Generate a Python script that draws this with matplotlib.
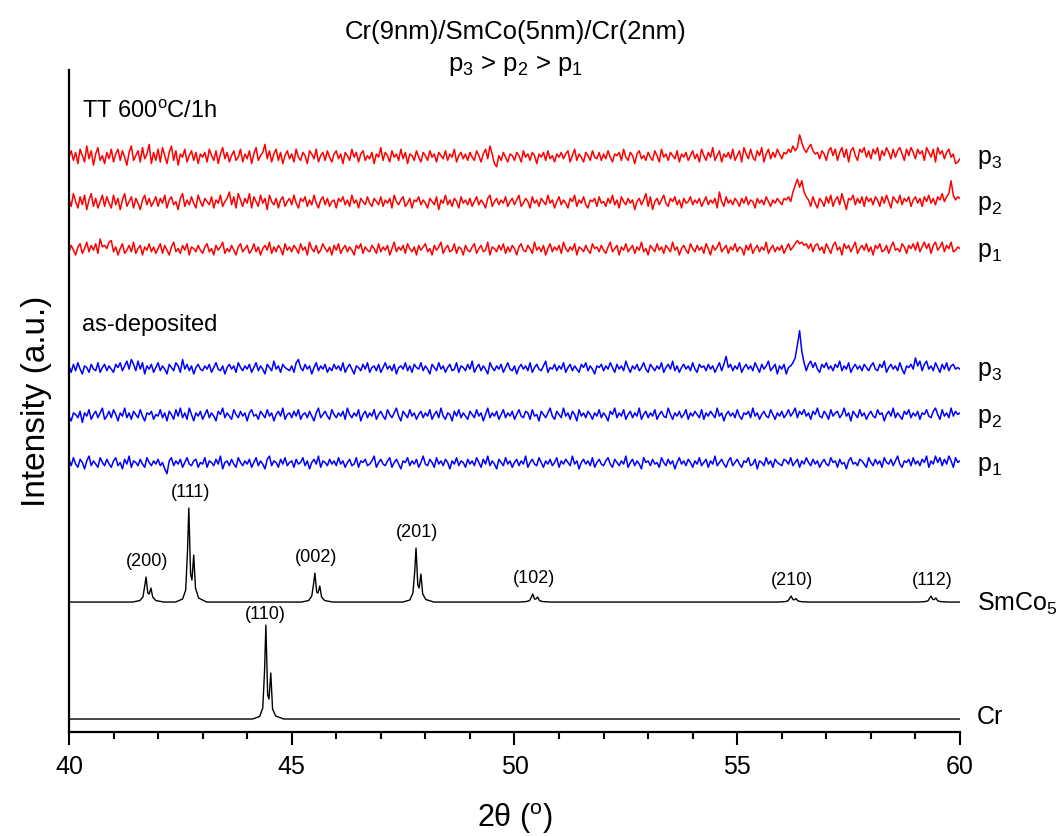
import numpy as np
import matplotlib
matplotlib.use("Agg")
import matplotlib.pyplot as plt
from matplotlib.ticker import MultipleLocator

plt.rcParams['font.family'] = ['Liberation Sans', 'DejaVu Sans']
plt.rcParams['mathtext.fontset'] = 'custom'
plt.rcParams['mathtext.rm'] = 'Liberation Sans'
plt.rcParams['mathtext.it'] = 'Liberation Sans'

# ---- film scans: intensity above background, 2theta from 40 to 60 in 0.05 deg steps ----
tt_p3 = [0, 4, -2, 3, -4, 5, 1, -3, 7, -1, 4, -5, 2, 6, -2, 1, -4, 3, -1, 5,
         -3, 2, 5, -2, 4, 0, -5, 3, 7, -2, 1, 4, -3, 6, -1, 2, 8, -4, 3, -2,
         5, -3, 6, 1, -4, 3, 7, -2, 4, -5, 2, 0, 5, -3, 1, 4, -2, 3, -4, 2,
         0, 3, -3, 5, 1, -2, 4, -4, 2, 6, -1, 3, -3, 1, 4, -2, 0, 5, -3, 2,
         -1, 4, -4, 2, 6, -2, 1, 3, 8, -1, 4, -3, 2, 5, -2, 3, -4, 1, 4, -1,
         2, -3, 5, 0, -2, 3, 1, -4, 4, 2, -1, 5, -3, 1, 3, -2, 4, 0, -3, 2,
         4, -1, 2, -4, 3, 1, -2, 5, 0, 3, -3, 2, 4, -2, 1, -1, 3, -4, 2, 0,
         6, -2, 3, 1, -3, 4, 0, 2, -2, 5, -1, 3, -4, 2, 1, -2, 4, 0, -3, 3,
         1, -2, 4, 0, 2, -3, 3, 1, -1, 4, -2, 2, 0, 5, -3, 1, 3, -1, 2, -2,
         3, 0, -2, 4, 1, -3, 2, 5, -1, 7, 2, -4, -6, 1, -2, 3, 0, -3, 2, 1,
         -2, 3, 1, -3, 4, 0, 2, -2, 3, 1, -4, 2, 0, 3, -2, 4, -1, 1, -3, 2,
         0, 3, -1, 2, 4, -3, 1, 5, -2, 2, 0, -3, 3, 1, -2, 4, 0, -1, 3, -2,
         2, -1, 4, 0, -3, 2, 1, 3, -2, 5, 0, -2, 3, 1, -4, 2, 4, -1, 1, -2,
         3, 0, -2, 4, 1, -3, 5, 0, 2, -2, 3, 1, -1, 4, -3, 2, 0, 3, -2, 1,
         4, -1, 2, -3, 5, 1, -2, 3, 0, 6, -2, 1, 4, -3, 2, 0, 3, -1, 5, -2,
         1, 4, -3, 6, 2, -1, 5, 0, -2, 4, 1, 6, -3, 2, 5, -1, 3, 0, 5, 2,
         -1, 3, 2, 5, 3, 7, 4, 6, 14, 9, 5, 3, 6, 8, 4, 2, 3, -1, 4, 2,
         -2, 4, 6, 1, 5, -2, 3, 6, 0, 5, -3, 4, 6, 1, -2, 5, 3, 6, 0, 4,
         -1, 5, 2, 6, -2, 4, 1, 6, 3, -1, 5, 0, 4, 6, 2, -2, 5, 1, 6, 3,
         -1, 5, 2, 4, -2, 6, 3, 0, 5, -3, 6, 2, 4, -1, 3, 5, 0, 2, -4, -3,
         -1]

tt_p2 = [3, -2, 6, 1, -3, 4, -1, 5, -4, 2, 6, -2, 3, -3, 1, 5, -2, 4, 0, -3,
         5, -1, 3, -4, 2, 6, -2, 1, 4, -3, 3, 0, -4, 2, 5, -1, 3, -2, 1, 4,
         -2, 3, 0, 5, -3, 2, 4, -1, 1, -4, 3, 6, -2, 2, -1, 4, 0, -3, 5, 1,
         -2, 3, 1, -1, 4, -3, 2, 0, 5, -2, 1, 3, 7, -1, 4, -3, 6, 2, -2, 3,
         0, 6, -3, 4, 1, -2, 5, 0, 3, -4, 5, 1, -1, 3, -3, 2, 4, -2, 1, 3,
         -1, 5, 0, -3, 3, 1, 4, -2, 2, -1, 5, 0, -3, 2, 4, -1, 3, -2, 1, 2,
         -3, 3, 1, 4, -1, 2, -2, 5, 0, 2, -3, 3, 1, -1, 4, 0, -2, 3, 1, -1,
         4, -2, 2, 0, 3, -3, 5, 1, -1, 2, 4, -2, 0, 3, -3, 2, 1, 4, -1, 2,
         0, -3, 3, 1, -1, 4, -4, 2, 0, 5, -1, 2, -2, 3, 1, -3, 4, 0, 2, -1,
         3, -2, 1, 4, -1, 2, 0, -3, 3, 5, -2, 1, 3, -1, 2, 0, 4, -2, 1, 3,
         -1, 2, 5, -2, 0, 3, 1, -3, 4, 0, 2, -2, 3, 1, -1, 5, 0, 2, -3, 1,
         4, -1, 2, 0, -3, 3, 1, 5, -2, 2, 0, 4, -1, -3, 2, 1, 3, -2, 4, 0,
         1, -2, 3, 0, 5, -1, 2, -3, 4, 1, -1, 3, 0, 2, -4, 1, 3, -1, 2, 6,
         -2, 4, -4, 1, 3, -1, 2, 5, 0, -2, 3, 1, 4, -1, 2, -3, 3, 0, 1, 4,
         -1, 2, 0, 3, -2, 1, 4, -1, 2, 0, 3, -3, 7, 1, -2, 4, 0, 2, -1, 3,
         1, -2, 3, 0, 4, -1, 2, 1, -3, 3, 0, 2, -1, 4, 1, -2, 2, 0, 3, 1,
         -1, 3, 2, 4, 1, 7, 11, 15, 10, 14, 7, 4, 2, -2, 4, 0, -3, 3, 1, -2,
         4, 0, 5, -2, 2, 4, -1, 6, 1, -4, 3, 2, 5, -1, 3, 0, 4, -2, 4, 1,
         3, -1, 4, 2, -2, 4, 0, 5, 1, -3, 4, 2, 0, 5, -1, 3, 1, 4, -2, 2,
         4, 0, 3, -2, 4, 1, 5, 0, 3, -1, 4, 2, 6, 1, 4, 6, 14, 5, 2, 4,
         3]

tt_p1 = [-1, 3, 0, -3, 2, 4, -2, 1, 5, -1, 3, 0, 4, -2, 7, 2, 3, 1, 5, 6,
         -1, 2, -3, 1, 4, -2, 0, 3, -1, 5, -2, 1, 3, -3, 2, 0, 4, -1, 2, -2,
         1, 4, -2, 3, 0, -3, 2, 5, -1, 1, -2, 3, 0, 4, -3, 2, 1, -1, 3, 0,
         -2, 2, 4, -1, 1, -3, 3, 0, 2, 5, -2, 1, -1, 3, 0, -3, 2, 4, -1, 1,
         3, -2, 0, 4, -1, 2, -3, 1, 3, 0, 5, -2, 2, -1, 3, 1, -3, 4, 0, 2,
         -1, 3, 1, -2, 4, 0, 2, -3, 5, 1, -1, 3, -2, 0, 4, 1, -1, 2, -3, 3,
         0, 4, -2, 1, 3, -1, 2, 0, -3, 3, 1, 4, -2, 2, 0, -1, 3, 1, -2, 4,
         -1, 2, 0, 3, -3, 1, 5, -1, 2, 0, 3, -2, 4, 1, -1, 2, -3, 3, 0, 2,
         4, -1, 1, -3, 3, 0, 2, 5, -2, 1, 3, -1, 0, 4, -2, 2, 1, -3, 3, 0,
         -1, 2, 4, -2, 1, 3, -1, 0, 5, -3, 2, 1, -1, 3, 0, 4, -2, 2, -1, 3,
         1, -3, 2, 4, 0, -1, 3, 1, -2, 5, 0, 2, -1, 3, -3, 1, 4, -1, 2, 0,
         3, -2, 5, 1, -1, 2, 0, 4, -3, 2, 1, -1, 3, 0, -2, 4, 1, 2, -1, 3,
         0, -2, 2, 5, -1, 1, 3, -3, 2, 0, 4, -1, 1, 3, -2, 2, 0, 5, -1, 1,
         -3, 3, 1, -1, 4, 0, 2, -2, 3, 1, -1, 5, 0, 2, -3, 1, 3, 0, -2, 4,
         1, -1, 3, 0, 2, -2, 4, 1, -3, 3, 0, 2, 5, -1, 1, 3, -2, 2, 0, 4,
         -1, 2, 1, -3, 3, 0, 4, -2, 1, 3, -1, 2, 0, 5, -2, 1, 3, -1, 2, 0,
         3, -2, 1, 4, 0, 2, 4, 6, 4, 5, 3, 4, 1, 4, -1, 3, 4, 0, 2, -2,
         4, 1, -2, 3, 5, 0, 2, -3, 4, 1, 3, -1, 2, 5, -2, 1, 3, 0, 4, -1,
         2, -3, 3, 1, 4, -1, 0, 3, -2, 2, 5, 0, 1, -1, 4, 2, -2, 3, 1, 4,
         0, 5, -1, 2, 5, 1, 4, -2, 3, 5, 0, 2, 5, -1, 3, 1, 5, -1, 0, 2,
         1]

ad_p3 = [2, -2, 3, -1, 4, 0, -3, 2, 1, -2, 3, 0, -1, 4, -2, 1, 3, -1, 2, 0,
         -2, 3, 1, 4, -1, 2, 5, 0, 6, 3, -1, 5, 0, 4, -3, 2, 0, 3, -2, 1,
         4, -1, 2, 0, -3, 3, 1, -1, 4, 2, -2, 6, 0, 3, -1, 2, -3, 1, 3, 0,
         -1, 2, 0, 3, -2, 1, 4, 0, -1, 2, -3, 1, 3, 0, 2, -2, 4, 1, -1, 2,
         0, 3, -2, 1, 4, -1, 2, 0, -3, 3, 1, -1, 5, 0, 2, -2, 3, 1, 0, -1,
         2, -2, 4, 6, 1, -1, 3, 0, 2, -3, 1, 4, -1, 2, 0, 3, -2, 1, -1, 3,
         0, 2, -1, 4, -2, 1, 3, 0, -3, 2, 1, -1, 3, 0, 4, -2, 1, 2, -1, 3,
         -2, 1, 4, 0, 2, -1, 3, -3, 1, 2, 0, 4, -1, 2, -2, 3, 1, 0, 4, -1,
         2, 0, -3, 3, 1, -1, 4, 0, 2, -2, 1, 3, -1, 0, 4, -2, 2, 1, -1, 3,
         0, 5, -2, 1, 3, -1, 2, 0, -3, 4, 1, -1, 2, 0, 3, -2, 1, 4, 0, -1,
         2, -3, 1, 3, 0, 2, -1, 4, -2, 1, 3, 0, -1, 2, 5, -2, 1, 0, 3, -1,
         2, 0, 4, -2, 1, 3, -1, 2, 0, -2, 3, 1, 4, -1, 2, 0, -3, 2, 1, 3,
         -1, 2, 0, 4, 1, -2, 3, 0, 2, -1, 5, 1, -2, 2, 0, 3, -1, 1, 4, 0,
         -2, 3, 1, -1, 2, 0, 4, -2, 1, 3, 0, 5, -1, 2, -2, 1, 3, 0, 2, -1,
         4, 0, -2, 3, 1, 2, -1, 3, 0, 2, -2, 1, 4, -1, 3, 8, 1, 3, -1, 2,
         0, 4, -2, 1, 3, 0, 2, -1, 4, 1, -2, 3, 0, 2, 5, -1, 1, 3, -3, 2,
         0, 3, -3, 1, 2, 4, 7, 15, 24, 11, 4, -1, 3, 5, 1, 4, 0, -2, 3, 1,
         4, 0, 2, -1, 3, 1, 5, -1, 2, 0, 4, -2, 1, 3, 0, 2, -1, 3, 1, -1,
         2, 4, 0, -1, 3, 1, 5, -2, 1, 3, 0, 2, -1, 4, 0, -3, 2, 1, 3, 0,
         7, 2, 5, -1, 3, 5, 0, 2, -1, 4, 1, -2, 3, 0, 4, -1, 2, 3, 0, 1,
         0]

ad_p2 = [0, -3, 2, 1, -1, 3, -4, 2, 0, 4, -2, 1, 3, -1, 2, 5, -2, 0, 3, -1,
         4, 1, -3, 2, 0, 5, -1, 2, -2, 3, 1, -1, 4, 0, -3, 2, 1, 3, -2, 1,
         0, 4, -1, 2, -3, 3, 1, -2, 4, 0, 5, -1, 2, -2, 5, 1, -3, 2, 0, 3,
         -2, 1, 4, -1, 2, 0, -3, 3, 1, 5, -1, 2, 0, -2, 4, 1, -1, 3, 0, 2,
         -3, 2, 4, 0, 1, -2, 3, 1, -1, 4, 0, 2, -3, 1, 3, 0, 5, -2, 1, 2,
         -1, 3, 0, 4, -2, 1, 2, -1, 3, 0, -3, 2, 5, -1, 1, 3, 0, -2, 4, 1,
         -1, 2, 0, 3, -2, 5, 1, -1, 2, 0, 4, -3, 1, 3, -1, 2, 0, 4, -2, 1,
         3, 0, -2, 4, 1, -1, 2, 5, 0, -3, 3, 1, -1, 4, 0, 2, -2, 1, 3, -1,
         2, 0, 4, -2, 1, 3, -1, 5, 0, -2, 2, 1, -3, 3, 0, 4, -1, 2, 0, -2,
         3, 1, -1, 4, 0, 2, -3, 1, 5, -1, 2, 0, 3, -2, 1, 4, -1, 2, 0, 3,
         -2, 1, 4, 0, -1, 3, 2, -2, 4, 0, 1, -3, 3, 1, -1, 2, 5, 0, -2, 3,
         1, -1, 5, 0, 2, -2, 3, 1, -3, 4, 0, 2, -1, 3, 1, -2, 2, 0, 4, -1,
         2, 0, -3, 3, 1, 5, -1, 2, 0, 4, -2, 1, 3, -1, 2, 0, 5, -2, 1, 3,
         -1, 2, 0, 4, -2, 1, 3, 0, -1, 5, 1, -2, 2, 0, 3, -1, 1, 4, -2, 2,
         0, 3, 1, -1, 4, -2, 2, 0, 3, 1, -1, 5, 0, 2, -3, 1, 3, 0, 2, -1,
         4, 0, -2, 2, 1, 3, -1, 5, 0, 2, -2, 1, 3, 0, -1, 4, 1, -2, 2, 0,
         3, -1, 1, 4, 0, 2, 5, -1, 3, 1, 4, 0, 2, -2, 3, 1, 5, 0, -1, 3,
         1, -2, 4, 0, 2, 3, -1, 1, 5, 0, 2, -3, 3, 1, -1, 4, 0, 2, -2, 1,
         3, 0, -1, 4, 1, 2, -3, 1, 3, 0, 5, -1, 2, 0, -2, 3, 1, 4, -1, 2,
         0, 3, -2, 2, 1, 4, 0, -1, 3, 5, 1, -2, 4, 0, 2, -1, 5, 0, 3, 1,
         2]

ad_p1 = [3, -1, 4, 0, -2, 3, 1, -3, 2, 5, -1, 2, 0, -2, 4, 1, -1, 3, 0, -2,
         2, 4, -1, 1, -3, 3, 0, 5, -2, 2, 1, -1, 3, 0, -2, 4, 1, -1, 2, 0,
         3, -1, 1, -3, -6, 2, 4, -1, 2, 0, 3, -2, 1, 4, 0, -1, 2, 3, -2, 1,
         0, 4, -2, 2, 1, -1, 3, 0, 5, -3, 1, 2, -1, 3, 0, -2, 4, 1, -1, 2,
         0, 3, -2, 1, 4, -1, 2, 0, -3, 3, 5, -1, 2, 1, -2, 3, 0, 4, -1, 1,
         2, -2, 3, 0, 1, 4, -1, 2, -3, 1, 3, 0, 5, -2, 2, 1, -1, 3, 0, 2,
         -1, 4, 0, 2, -2, 1, 3, -1, 0, 4, -2, 2, 1, 3, -1, 0, 2, 5, -2, 1,
         3, 0, -1, 2, 4, -2, 1, 3, 0, -3, 2, 1, 4, -1, 2, 0, 3, -2, 1, 5,
         0, -1, 3, 1, -2, 4, 0, 2, -1, 3, 1, -3, 2, 0, 4, -1, 2, 1, -2, 3,
         0, 2, -1, 4, 1, -2, 3, 0, 5, -1, 2, 0, -3, 3, 1, -1, 4, 0, 2, -2,
         1, 3, -1, 2, 0, 5, -2, 1, 3, 0, -1, 4, 1, -2, 2, 0, 3, -1, 1, 4,
         -2, 2, 0, 3, 1, -1, 5, 0, 2, -3, 1, 3, 0, 2, -1, 4, -2, 1, 3, 0,
         -1, 2, 4, 0, -2, 3, 1, -1, 2, 0, 5, -2, 1, 3, -1, 2, 0, -3, 4, 1,
         2, -1, 3, 0, 1, -2, 4, 1, -1, 3, 0, 2, -3, 1, 4, 0, 2, -1, 3, 1,
         -2, 2, 0, 4, -1, 1, 3, -2, 2, 0, 5, -1, 1, 3, 0, -2, 2, 4, -1, 1,
         3, 0, -2, 2, 1, 4, -1, 0, 3, -3, 2, 1, -1, 4, 0, 2, -2, 3, 1, 0,
         -1, 3, 2, 0, 4, -1, 1, 3, -2, 2, 0, 4, 1, -1, 3, 0, 2, -2, 1, 3,
         0, -1, 4, 1, 2, -2, 3, 0, 1, -3, 2, 4, 0, 1, -1, 3, 2, 0, -2, 4,
         1, -1, 3, 0, 2, -2, 4, 1, 0, 3, -1, 2, 5, 0, -2, 2, 1, 3, -1, 4,
         0, 2, -1, 3, 1, 5, -2, 2, 0, 5, 1, 4, -1, 3, 0, 5, 2, -2, 4, 1,
         2]

# ---- reference patterns: peak positions, hkl, profile points (offset from Ka1 peak, intensity) ----
profile_offsets = [-0.30, -0.14, -0.07, -0.03, 0.0, 0.04, 0.07, 0.11, 0.15, 0.22, 0.40]

smco5_hkl = ['(200)', '(111)', '(002)', '(201)', '(102)', '(210)', '(112)']
smco5_pos = [41.73, 42.69, 45.52, 47.79, 50.41, 56.21, 59.35]
smco5_profiles = [
    [0, 1.5, 5, 16, 25, 9, 8, 14, 5, 1.5, 0],
    [0, 3, 12, 50, 94, 28, 22, 47, 14, 4, 0],
    [0, 1.5, 6, 18, 29, 10, 9, 16, 5, 1.5, 0],
    [0, 2, 9, 30, 54, 17, 14, 28, 8, 2.5, 0],
    [0, 0.5, 1.5, 5, 8, 3, 3, 5, 1.5, 0.5, 0],
    [0, 0.4, 1.2, 4, 6, 2.5, 2.2, 3.5, 1.2, 0.4, 0],
    [0, 0.4, 1.2, 4, 6, 2.5, 2.5, 4, 1.2, 0.4, 0],
]

cr_hkl = ['(110)']
cr_pos = [44.42]
cr_profiles = [[0, 2.5, 11, 48, 94, 24, 20, 46, 10, 3, 0]]


def pattern(positions, profiles):
    xs, ys = [40.0], [0.0]
    for p, prof in zip(positions, profiles):
        xs += [p + o for o in profile_offsets]
        ys += prof
    xs.append(60.0)
    ys.append(0.0)
    return np.array(xs), np.array(ys)


def scan_x(data):
    return np.linspace(40.0, 60.0, len(data))


fig = plt.figure(figsize=(10.61, 8.36), dpi=100)
ax = fig.add_axes([0.065, 0.1244, 0.8398, 0.7916])

# vertical offsets of the stacked curves, and vertical scale of the film scans
off = {'cr': 13, 'smco5': 130, 'ad1': 268, 'ad2': 316, 'ad3': 363,
       'tt1': 482, 'tt2': 529, 'tt3': 575}
film_gain = 1.6

x, y = pattern(cr_pos, cr_profiles)
ax.plot(x, y + off['cr'], color='black', lw=1.0)
x, y = pattern(smco5_pos, smco5_profiles)
ax.plot(x, y + off['smco5'], color='black', lw=1.0)

for data, key in [(ad_p1, 'ad1'), (ad_p2, 'ad2'), (ad_p3, 'ad3')]:
    ax.plot(scan_x(data), film_gain * np.array(data) + off[key], color='#0000ff', lw=1.1)
for data, key in [(tt_p1, 'tt1'), (tt_p2, 'tt2'), (tt_p3, 'tt3')]:
    ax.plot(scan_x(data), film_gain * np.array(data) + off[key], color='#ff0000', lw=1.1)

# hkl labels
for lab, p, prof in zip(smco5_hkl, smco5_pos, smco5_profiles):
    ax.text(p + 0.03, off['smco5'] + max(prof) + 16, lab, ha='center', va='center', fontsize=13)
for lab, p, prof in zip(cr_hkl, cr_pos, cr_profiles):
    ax.text(p - 0.02, off['cr'] + max(prof) + 11, lab, ha='center', va='center', fontsize=13)

# right-hand labels
rkw = dict(transform=ax.get_yaxis_transform(), ha='left', va='center', fontsize=18, clip_on=False)
xr = 1.019
ax.text(xr, off['tt3'] - 2, r'p$_3$', **rkw)
ax.text(xr, off['tt2'] - 2, r'p$_2$', **rkw)
ax.text(xr, off['tt1'] - 2, r'p$_1$', **rkw)
ax.text(xr, off['ad3'] - 2, r'p$_3$', **rkw)
ax.text(xr, off['ad2'] - 2, r'p$_2$', **rkw)
ax.text(xr, off['ad1'] - 2, r'p$_1$', **rkw)
ax.text(xr, off['smco5'] - 2, r'SmCo$_5$', **rkw)
ax.text(xr, off['cr'] + 2, 'Cr', **rkw)

ax.text(0.015, 620, r'TT 600$^\mathregular{o}$C/1h', transform=ax.get_yaxis_transform(),
        ha='left', va='center', fontsize=17)
ax.text(0.015, 407, 'as-deposited', transform=ax.get_yaxis_transform(),
        ha='left', va='center', fontsize=17)

fig.text(0.486, 0.962, 'Cr(9nm)/SmCo(5nm)/Cr(2nm)', ha='center', va='center', fontsize=18.5)
fig.text(0.486, 0.922, r'p$_3$ > p$_2$ > p$_1$', ha='center', va='center', fontsize=18.5)

ax.set_xlim(40, 60)
ax.set_ylim(0, 662)
ax.xaxis.set_major_locator(MultipleLocator(5))
ax.xaxis.set_minor_locator(MultipleLocator(1))
ax.set_yticks([])
ax.spines['top'].set_visible(False)
ax.spines['right'].set_visible(False)
ax.spines['left'].set_linewidth(1.6)
ax.spines['bottom'].set_linewidth(1.6)
ax.tick_params(axis='x', which='major', direction='out', length=9.5, width=1.5, labelsize=18, pad=7)
ax.tick_params(axis='x', which='minor', direction='out', length=5, width=1.5)

ax.set_xlabel(r'2$\mathregular{\theta}$ ($^\mathregular{o}$)', fontsize=22, labelpad=16)
ax.set_ylabel('Intensity (a.u.)', fontsize=24, labelpad=12)

fig.savefig('out.png', dpi=100)
